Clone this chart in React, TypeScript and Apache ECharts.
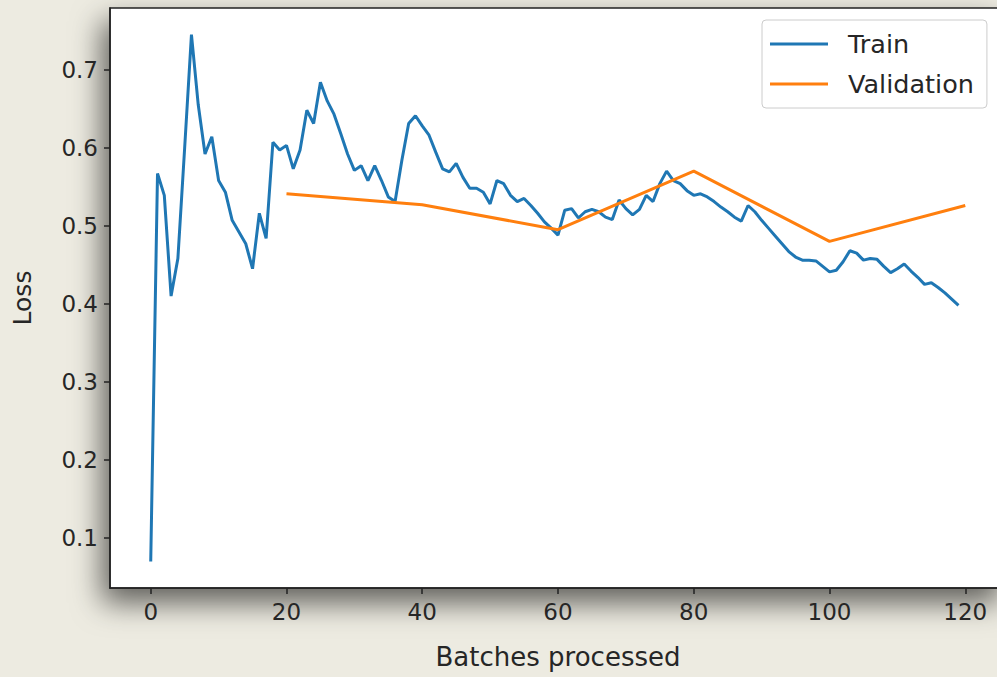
import React, { useEffect, useRef } from "react";
import * as echarts from "echarts";

const trainLoss = [
  0.070, 0.567, 0.539, 0.410, 0.458, 0.600, 0.745, 0.655, 0.592, 0.614,
  0.558, 0.543, 0.507, 0.492, 0.477, 0.445, 0.516, 0.484, 0.607, 0.597,
  0.603, 0.573, 0.597, 0.648, 0.631, 0.684, 0.660, 0.643, 0.618, 0.592,
  0.571, 0.577, 0.558, 0.577, 0.558, 0.537, 0.531, 0.584, 0.631, 0.641,
  0.628, 0.616, 0.594, 0.573, 0.569, 0.580, 0.562, 0.548, 0.548, 0.543,
  0.528, 0.558, 0.554, 0.539, 0.531, 0.535, 0.526, 0.516, 0.505, 0.497,
  0.488, 0.520, 0.522, 0.510, 0.518, 0.521, 0.518, 0.511, 0.508, 0.533,
  0.522, 0.514, 0.521, 0.539, 0.531, 0.554, 0.570, 0.558, 0.554, 0.545,
  0.539, 0.541, 0.537, 0.531, 0.524, 0.518, 0.511, 0.506, 0.526, 0.518,
  0.507, 0.497, 0.487, 0.477, 0.467, 0.460, 0.456, 0.456, 0.455, 0.448,
  0.441, 0.443, 0.454, 0.468, 0.465, 0.456, 0.458, 0.457, 0.448, 0.440,
  0.445, 0.451, 0.442, 0.434, 0.425, 0.427, 0.421, 0.414, 0.406, 0.398,
];

const valBatches = [20, 40, 60, 80, 100, 120];
const valLoss = [0.541, 0.527, 0.495, 0.570, 0.480, 0.526];

const xTicks = [0, 20, 40, 60, 80, 100, 120];
const yTicks = [0.1, 0.2, 0.3, 0.4, 0.5, 0.6, 0.7];

const FONT = "DejaVu Sans";
const TEXT = "#262626";

export default function App() {
  const ref = useRef<HTMLDivElement>(null);

  useEffect(() => {
    if (!ref.current) return;
    const chart = echarts.init(ref.current, null, { renderer: "svg" });
    const trainData = trainLoss.map((v, i) => [i, v]);
    const valData = valBatches.map((b, i) => [b, valLoss[i]]);

    chart.setOption({
      animation: false,
      backgroundColor: "#edebe1",
      textStyle: { fontFamily: FONT },
      grid: {
        left: 110,
        top: 8,
        right: -9,
        bottom: 89,
        show: true,
        backgroundColor: "#ffffff",
        borderColor: "#222222",
        borderWidth: 1.5,
        shadowBlur: 30,
        shadowColor: "rgba(0,0,0,0.6)",
        shadowOffsetX: -7,
        shadowOffsetY: 14,
        outerBoundsMode: "none",
        containLabel: false,
      },
      legend: {
        left: 762,
        top: 20,
        orient: "vertical",
        backgroundColor: "#ffffff",
        borderColor: "#cccccc",
        borderWidth: 1,
        borderRadius: 4,
        padding: [11, 13, 11, 8],
        itemWidth: 58,
        itemHeight: 3,
        itemGap: 14,
        icon: "rect",
        textStyle: { fontFamily: FONT, fontSize: 25.5, color: TEXT, padding: [0, 0, 0, 15] },
        data: [
          { name: "Train", itemStyle: { color: "#1f77b4" } },
          { name: "Validation", itemStyle: { color: "#ff7f0e" } },
        ],
      },
      xAxis: {
        type: "value",
        min: -6,
        max: 126,
        name: "Batches processed",
        nameLocation: "middle",
        nameGap: 56,
        nameTextStyle: { fontFamily: FONT, fontSize: 26, color: TEXT },
        axisLine: { show: true, onZero: false, lineStyle: { color: "#222222", width: 1.5 } },
        axisTick: { show: true, length: 6, customValues: xTicks, lineStyle: { color: "#222222", width: 1.5 } },
        axisLabel: {
          customValues: xTicks,
          margin: 12,
          fontFamily: FONT,
          fontSize: 23,
          color: TEXT,
        },
        splitLine: { show: false },
      },
      yAxis: {
        type: "value",
        min: 0.036,
        max: 0.779,
        name: "Loss",
        nameLocation: "middle",
        nameGap: 75,
        nameTextStyle: { fontFamily: FONT, fontSize: 25, color: TEXT },
        axisLine: { show: true, onZero: false, lineStyle: { color: "#222222", width: 1.5 } },
        axisTick: { show: true, length: 6, customValues: yTicks, lineStyle: { color: "#222222", width: 1.5 } },
        axisLabel: {
          customValues: yTicks,
          margin: 12,
          fontFamily: FONT,
          fontSize: 23,
          color: TEXT,
          formatter: (v: number) => v.toFixed(1),
        },
        splitLine: { show: false },
      },
      series: [
        {
          name: "Train",
          type: "line",
          data: trainData,
          showSymbol: false,
          lineStyle: { color: "#1f77b4", width: 3 },
          itemStyle: { color: "#1f77b4" },
        },
        {
          name: "Validation",
          type: "line",
          data: valData,
          showSymbol: false,
          lineStyle: { color: "#ff7f0e", width: 3 },
          itemStyle: { color: "#ff7f0e" },
        },
      ],
    });
    return () => chart.dispose();
  }, []);

  return (
    <div
      ref={ref}
      style={{ position: "absolute", left: 0, top: 0, width: 997, height: 677 }}
    />
  );
}
